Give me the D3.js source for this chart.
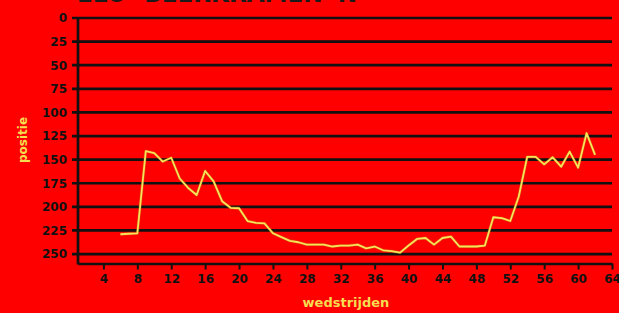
<!DOCTYPE html>
<html>
<head>
<meta charset="utf-8">
<script src="https://cdn.jsdelivr.net/npm/d3@7"></script>
<style>
html,body{margin:0;padding:0;background:#ff0000;}
svg{display:block;}
</style>
</head>
<body>
<svg id="chart" width="619" height="313"></svg>
<script>
const games = [6,7,8,9,10,11,12,13,14,15,16,17,18,19,20,21,22,23,24,25,26,27,28,29,30,31,32,33,34,35,36,37,38,39,40,41,42,43,44,45,46,47,48,49,50,51,52,53,54,55,56,57,58,59,60,61,62];
const positions = [229,228.5,228,141,143,152,148,170,180,187.5,162,173,194,201,201.5,215,217,217.5,228,232,236,237.5,240,240,240,242,241,241,240,244,242,246,247,248.5,241,234,233,240,233,231.5,242,242,242,241,211,212,215,189,147,147,155,147.5,157.5,141.5,158.5,122,145];
const xTicks = [4,8,12,16,20,24,28,32,36,40,44,48,52,56,60,64];
const yTicks = [0,25,50,75,100,125,150,175,200,225,250];
const titleText = "ELO- BEERKRAMEN 'N";
const xLabel = "wedstrijden";
const yLabel = "positie";

const svg = d3.select("#chart");
svg.append("rect").attr("width",619).attr("height",313).attr("fill","#ff0000");

const x = d3.scaleLinear().domain([1,64]).range([78,612]);
const y = d3.scaleLinear().domain([0,260]).range([18,263.5]);

// partial title at top (cut off by the top edge, as in the reference)
svg.append("text")
  .attr("x",77).attr("y",2)
  .attr("textLength",280).attr("lengthAdjust","spacingAndGlyphs")
  .attr("font-family","DejaVu Sans").attr("font-weight","bold")
  .attr("font-size",26).attr("fill","#1a1a1a")
  .text(titleText);

// gridlines
svg.append("g").selectAll("line").data(yTicks).join("line")
  .attr("x1",72).attr("x2",612)
  .attr("y1",d=>y(d)).attr("y2",d=>y(d))
  .attr("stroke","#111").attr("stroke-width",2.7);

// y axis
const yAxis = d3.axisLeft(y).tickValues(yTicks).tickSize(0).tickPadding(11);
const gy = svg.append("g").attr("transform","translate(78,0)").call(yAxis);
gy.select(".domain").remove();
gy.selectAll("text").attr("font-family","DejaVu Sans").attr("font-weight","bold")
  .attr("font-size",12).attr("fill","#111");
svg.append("line").attr("x1",78).attr("x2",78).attr("y1",y(0)-1).attr("y2",y(260)+1)
  .attr("stroke","#111").attr("stroke-width",2.7);

// x axis
const xAxis = d3.axisBottom(x).tickValues(xTicks).tickSize(6).tickPadding(5).tickSizeOuter(0);
const gx = svg.append("g").attr("transform",`translate(0,${y(260)})`).call(xAxis);
gx.select(".domain").attr("stroke","#111").attr("stroke-width",2.7);
gx.selectAll(".tick line").attr("stroke","#111").attr("stroke-width",2);
gx.selectAll("text").attr("font-family","DejaVu Sans").attr("font-weight","bold")
  .attr("font-size",12).attr("fill","#111");

// line
const pts = games.map((g,i)=>[g,positions[i]]);
const lineGen = d3.line().x(d=>x(d[0])).y(d=>y(d[1]));
svg.append("path").datum(pts)
  .attr("fill","none").attr("stroke","#b8860b").attr("stroke-width",3).attr("stroke-opacity",0.45)
  .attr("stroke-linejoin","round").attr("d",lineGen);
svg.append("path").datum(pts)
  .attr("fill","none").attr("stroke","#f7e45a").attr("stroke-width",1.8)
  .attr("stroke-linejoin","round").attr("d",lineGen);

// axis titles
svg.append("text").attr("x",346).attr("y",307).attr("text-anchor","middle")
  .attr("font-family","DejaVu Sans").attr("font-weight","bold").attr("font-size",13)
  .attr("fill","#f5dc50").text(xLabel);
svg.append("text").attr("transform","translate(27,140) rotate(-90)").attr("text-anchor","middle")
  .attr("font-family","DejaVu Sans").attr("font-weight","bold").attr("font-size",12)
  .attr("fill","#f5dc50").text(yLabel);
</script>
</body>
</html>
